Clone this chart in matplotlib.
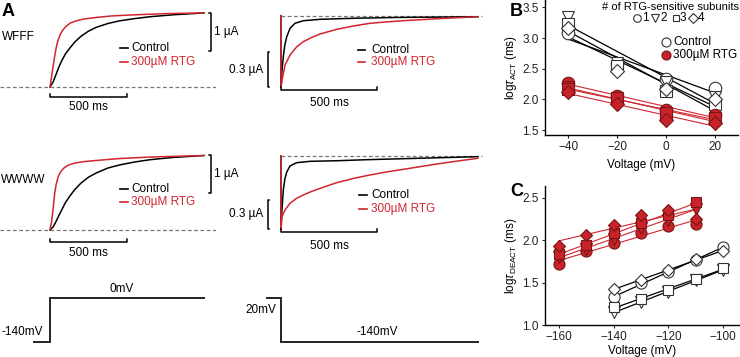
import numpy as np
import matplotlib
matplotlib.use("Agg")
import matplotlib.pyplot as plt

FS = 8.5
plt.rcParams['font.family'] = ['Liberation Sans', 'DejaVu Sans']
plt.rcParams['font.size'] = FS
plt.rcParams['mathtext.fontset'] = 'custom'
plt.rcParams['mathtext.rm'] = 'Liberation Sans'
plt.rcParams['mathtext.it'] = 'Liberation Sans:italic'

RED = '#d0262e'
RED_FILL = '#c8232b'
RED_EDGE = '#7a1414'
GRAY = '#777777'

# ---- panel A: activation traces (ms, uA) ----
wfff_act_t_ctrl = [0, 20, 40, 60, 80, 100, 130, 160, 200, 250, 300, 375, 450, 550, 650, 800, 1000]
wfff_act_i_ctrl = [0, 0.13, 0.34, 0.55, 0.72, 0.87, 1.03, 1.18, 1.33, 1.47, 1.57, 1.67, 1.74, 1.80, 1.85, 1.90, 1.95]
wfff_act_t_rtg = [0, 10, 20, 30, 40, 50, 65, 80, 100, 130, 170, 220, 300, 400, 550, 750, 1000]
wfff_act_i_rtg = [0, 0.27, 0.54, 0.80, 1.03, 1.20, 1.37, 1.48, 1.58, 1.68, 1.74, 1.79, 1.83, 1.87, 1.90, 1.93, 1.95]

wwww_act_t_ctrl = [0, 20, 40, 60, 80, 100, 130, 160, 200, 250, 300, 375, 450, 550, 650, 800, 1000]
wwww_act_i_ctrl = [0, 0.08, 0.23, 0.40, 0.56, 0.72, 0.90, 1.06, 1.23, 1.39, 1.50, 1.63, 1.71, 1.79, 1.85, 1.91, 1.96]
wwww_act_t_rtg = [0, 10, 20, 30, 40, 55, 70, 90, 120, 160, 220, 300, 450, 650, 1000]
wwww_act_i_rtg = [0, 0.22, 0.55, 0.95, 1.20, 1.42, 1.54, 1.63, 1.71, 1.76, 1.80, 1.83, 1.88, 1.92, 1.96]

# ---- panel A: deactivation traces (ms, uA) ----
wfff_deact_t_ctrl = [0, 0, 5, 12, 20, 30, 47, 73, 116, 203, 375, 600, 1025]
wfff_deact_i_ctrl = [0, -0.611, -0.47, -0.351, -0.25, -0.18, -0.108, -0.065, -0.043, -0.031, -0.022, -0.015, -0.009]
wfff_deact_t_rtg = [0, 0, 9, 21, 47, 82, 116, 160, 203, 290, 377, 464, 550, 637, 811, 1025]
wfff_deact_i_rtg = [0, -0.611, -0.523, -0.422, -0.337, -0.266, -0.223, -0.186, -0.157, -0.117, -0.088, -0.065, -0.053, -0.043, -0.026, -0.009]

wwww_deact_t_ctrl = [0, 0, 5, 12, 20, 30, 47, 82, 151, 290, 450, 635, 1025]
wwww_deact_i_ctrl = [0, -0.758, -0.55, -0.352, -0.24, -0.165, -0.103, -0.069, -0.055, -0.049, -0.038, -0.028, -0.007]
wwww_deact_t_rtg = [0, 0, 5, 21, 47, 82, 116, 160, 203, 290, 377, 464, 550, 637, 725, 811, 920, 1025]
wwww_deact_i_rtg = [0, -0.758, -0.627, -0.558, -0.489, -0.437, -0.403, -0.366, -0.335, -0.276, -0.232, -0.196, -0.165, -0.138, -0.110, -0.083, -0.052, -0.024]

# voltage protocols
prot_act_t = [-105, 0, 0, 1000]
prot_act_v = [-140, -140, 0, 0]
prot_deact_t = [-73, 0, 0, 1025]
prot_deact_v = [20, 20, -140, -140]

# ---- panel B: log tau activation ----
volt_B = [-40, -20, 0, 20]
ctrl_act_circle = [3.08, 2.58, 2.33, 2.19]
ctrl_act_tri = [3.35, 2.60, 2.29, 2.04]
ctrl_act_square = [3.23, 2.55, 2.14, 1.93]
ctrl_act_diamond = [3.16, 2.47, 2.17, 2.00]
rtg_act_circle = [2.27, 2.06, 1.83, 1.74]
rtg_act_tri = [2.21, 2.00, 1.76, 1.68]
rtg_act_square = [2.17, 2.02, 1.78, 1.70]
rtg_act_diamond = [2.12, 1.92, 1.67, 1.61]

# ---- panel C: log tau deactivation ----
volt_C_rtg = [-160, -150, -140, -130, -120, -110]
volt_C_ctrl = [-140, -130, -120, -110, -100]
rtg_deact_circle = [1.72, 1.87, 1.97, 2.08, 2.17, 2.19]
rtg_deact_tri = [1.80, 1.90, 2.02, 2.14, 2.24, 2.37]
rtg_deact_square = [1.84, 1.94, 2.09, 2.20, 2.30, 2.45]
rtg_deact_diamond = [1.93, 2.06, 2.18, 2.30, 2.36, 2.25]
ctrl_deact_circle = [1.33, 1.49, 1.62, 1.77, 1.92]
ctrl_deact_tri = [1.15, 1.27, 1.39, 1.53, 1.65]
ctrl_deact_square = [1.21, 1.31, 1.41, 1.54, 1.67]
ctrl_deact_diamond = [1.42, 1.53, 1.65, 1.78, 1.87]

W, H = 740, 357
fig = plt.figure(figsize=(W / 100, H / 100), dpi=100)


def px_axes(l, t, r, b):
    return fig.add_axes([l / W, 1 - b / H, (r - l) / W, (b - t) / H])


def trace_axes(l, t, r, b, x0, y0, px_ms, px_ua):
    ax = px_axes(l, t, r, b)
    ax.set_xlim((l - x0) / px_ms, (r - x0) / px_ms)
    ax.set_ylim((y0 - b) / px_ua, (y0 - t) / px_ua)
    ax.axis('off')
    return ax


def legend_lines(ax, t_line, t_text, i_ctrl, i_rtg):
    ax.plot(t_line, [i_ctrl, i_ctrl], color='black', lw=1.2)
    ax.plot(t_line, [i_rtg, i_rtg], color=RED, lw=1.2)
    ax.text(t_text, i_ctrl, 'Control', va='center', ha='left')
    ax.text(t_text, i_rtg, '300µM RTG', va='center', ha='left', color=RED)


def time_bar(ax, i_bar, i_text, tick):
    ax.plot([0, 0, 500, 500], [i_bar + tick, i_bar, i_bar, i_bar + tick], color='black', lw=1.1)
    ax.text(250, i_text, '500 ms', ha='center', va='center')


def current_bar(ax, t_bar, i0, i1, dt, label, t_text, left=True):
    ax.plot([t_bar - dt, t_bar, t_bar, t_bar - dt], [i0, i0, i1, i1], color='black', lw=1.1,
            clip_on=False)
    ax.text(t_text, (i0 + i1) / 2, label, ha='left' if left else 'right', va='center')


# activation, WFFF
px_ms_a = 0.154
ax = trace_axes(0, 0, 216, 112, 50, 87, px_ms_a, 38)
ax.hlines(0, ax.get_xlim()[0], ax.get_xlim()[1], colors=GRAY, linestyles=(0, (3, 2)), lw=0.9)
ax.plot(wfff_act_t_ctrl, wfff_act_i_ctrl, color='black', lw=1.1)
ax.plot(wfff_act_t_rtg, wfff_act_i_rtg, color=RED, lw=1.1)
legend_lines(ax, [455, 507], 526, 1.03, 0.66)
time_bar(ax, -0.263, -0.53, 0.08)
current_bar(ax, 1045, 0.95, 1.95, 15, '1 µA', 1068)

# activation, WWWW
ax = trace_axes(0, 143, 216, 260, 50, 230, px_ms_a, 38)
ax.hlines(0, ax.get_xlim()[0], ax.get_xlim()[1], colors=GRAY, linestyles=(0, (3, 2)), lw=0.9)
ax.plot(wwww_act_t_ctrl, wwww_act_i_ctrl, color='black', lw=1.1)
ax.plot(wwww_act_t_rtg, wwww_act_i_rtg, color=RED, lw=1.1)
legend_lines(ax, [455, 507], 526, 1.08, 0.74)
time_bar(ax, -0.316, -0.60, 0.08)
current_bar(ax, 1045, 0.97, 1.97, 15, '1 µA', 1068)

# deactivation, WFFF
px_ms_d = 0.192
ax = trace_axes(230, 0, 500, 112, 281, 15.7, px_ms_d, 116.7)
ax.hlines(0, 0, 1045, colors=GRAY, linestyles=(0, (3, 2)), lw=0.9)
ax.plot(wfff_deact_t_ctrl, wfff_deact_i_ctrl, color='black', lw=1.1)
ax.plot(wfff_deact_t_rtg, wfff_deact_i_rtg, color=RED, lw=1.1)
legend_lines(ax, [401, 437], 469, -0.294, -0.397)
time_bar(ax, -0.637, -0.75, 0.025)
current_bar(ax, -68, -0.615, -0.315, -8, '0.3 µA', -95, left=False)

# deactivation, WWWW
ax = trace_axes(230, 143, 500, 260, 281, 156, px_ms_d, 96.7)
ax.hlines(0, 0, 1045, colors=GRAY, linestyles=(0, (3, 2)), lw=0.9)
ax.plot(wwww_deact_t_ctrl, wwww_deact_i_ctrl, color='black', lw=1.1)
ax.plot(wwww_deact_t_rtg, wwww_deact_i_rtg, color=RED, lw=1.1)
legend_lines(ax, [406, 448], 469, -0.403, -0.548)
time_bar(ax, -0.79, -0.93, 0.03)
current_bar(ax, -68, -0.75, -0.45, -8, '0.3 µA', -95, left=False)

# protocols
ax = px_axes(0, 270, 216, 357)
ax.set_xlim(-50 / px_ms_a, 166 / px_ms_a)
ax.set_ylim(-140 - (357 - 341.7) / 0.3143, (341.7 - 270) / 0.3143 - 140)
ax.axis('off')
ax.plot(prot_act_t, prot_act_v, color='#222222', lw=1.4, solid_joinstyle='miter')
ax.text(468, 10, '0mV', ha='center', va='bottom')
ax.text(-45, -140 + 10 / 0.3143, '-140mV', ha='right', va='center')

ax = px_axes(230, 270, 500, 357)
ax.set_xlim(-51 / px_ms_d, 219 / px_ms_d)
ax.set_ylim(-140 - (357 - 341.7) / 0.275, (341.7 - 270) / 0.275 - 140)
ax.axis('off')
ax.plot(prot_deact_t, prot_deact_v, color='#222222', lw=1.4, solid_joinstyle='miter')
ax.text(-27, 20 - 12 / 0.275, '20mV', ha='right', va='center')
ax.text(500, -140 + 10 / 0.275, '-140mV', ha='center', va='center')

fig.text(2 / W, 1 - 37 / H, 'WFFF', ha='left', va='center')
fig.text(1 / W, 1 - 180 / H, 'WWWW', ha='left', va='center')

# ---- panels B and C ----
markers = ['o', 'v', 's', 'D']
msizes = [9, 9, 8, 7.5]


def style_axes(ax):
    for s in ['top', 'right']:
        ax.spines[s].set_visible(False)
    for s in ['left', 'bottom']:
        ax.spines[s].set_linewidth(1.0)
    ax.tick_params(direction='out', length=2.5, width=0.8, labelsize=FS, pad=2,
                   colors='#222222')


def fit_line(ax, x, y, color, lw):
    k, c = np.polyfit(x, y, 1)
    xs = np.array([x[0], x[-1]])
    ax.plot(xs, k * xs + c, color=color, lw=lw, zorder=2)


axB = px_axes(545, 0, 738, 135)
axB.set_xlim(-49.5, 29.5)
axB.set_ylim(1.42, 3.62)
style_axes(axB)
axB.set_xticks([-40, -20, 0, 20])
axB.set_yticks([1.5, 2.0, 2.5, 3.0, 3.5])
axB.set_yticklabels(['1.5', '2.0', '2.5', '3.0', '3.5'])
axB.set_xlabel('Voltage (mV)', labelpad=4)
axB.set_ylabel(r'log$\tau_{\mathrm{ACT}}$ (ms)', labelpad=2)

ctrl_B = [ctrl_act_circle, ctrl_act_tri, ctrl_act_square, ctrl_act_diamond]
rtg_B = [rtg_act_circle, rtg_act_tri, rtg_act_square, rtg_act_diamond]
for ys, m, ms in zip(ctrl_B, markers, msizes):
    fit_line(axB, volt_B, ys, 'black', 0.9)
    axB.plot(volt_B, ys, m, ms=ms, mfc='white', mec='#333333', mew=0.8, zorder=3)
for ys, m, ms in zip(rtg_B, markers, msizes):
    fit_line(axB, volt_B, ys, RED, 0.8)
    axB.plot(volt_B, ys, m, ms=ms, mfc=RED_FILL, mec=RED_EDGE, mew=0.8, zorder=3)


def bx(px):
    return (px - 545) / 193


def by(py):
    return (135 - py) / 135


axB.text(bx(739), by(7), '# of RTG-sensitive subunits', transform=axB.transAxes,
         ha='right', va='center', fontsize=8)
for m, ms, xm, xt, lab in zip(markers, [5.5, 6, 5, 5], [637, 655, 675.5, 692.5],
                              [642, 660.5, 680, 698], ['1', '2', '3', '4']):
    axB.plot([bx(xm)], [by(18)], m, ms=ms, mfc='white', mec='#333333', mew=0.8,
             transform=axB.transAxes, clip_on=False)
    axB.text(bx(xt), by(18), lab, transform=axB.transAxes, ha='left', va='center')
axB.plot([bx(666), ], [by(42)], 'o', ms=6.5, mfc='white', mec='#333333', mew=0.8,
         transform=axB.transAxes, clip_on=False)
axB.text(bx(673), by(42), 'Control', transform=axB.transAxes, ha='left', va='center')
axB.plot([bx(666)], [by(55)], 'o', ms=6.5, mfc=RED_FILL, mec=RED_EDGE, mew=0.8,
         transform=axB.transAxes, clip_on=False)
axB.text(bx(673), by(55), '300µM RTG', transform=axB.transAxes, ha='left', va='center')

axC = px_axes(545, 186, 739, 325)
axC.set_xlim(-165.1, -94.2)
axC.set_ylim(1.0, 2.64)
style_axes(axC)
axC.set_xticks([-160, -140, -120, -100])
axC.set_yticks([1.0, 1.5, 2.0, 2.5])
axC.set_yticklabels(['1.0', '1.5', '2.0', '2.5'])
axC.set_xlabel('Voltage (mV)', labelpad=1)
axC.set_ylabel(r'log$\tau_{\mathrm{DEACT}}$ (ms)', labelpad=2)

ctrl_C = [ctrl_deact_circle, ctrl_deact_tri, ctrl_deact_square, ctrl_deact_diamond]
rtg_C = [rtg_deact_circle, rtg_deact_tri, rtg_deact_square, rtg_deact_diamond]
msC = [8, 8, 7, 6.5]
for ys, m, ms in zip(ctrl_C, markers, msC):
    fit_line(axC, volt_C_ctrl, ys, 'black', 0.9)
    axC.plot(volt_C_ctrl, ys, m, ms=ms, mfc='white', mec='#333333', mew=0.8, zorder=3)
for ys, m, ms in zip(rtg_C, markers, msC):
    fit_line(axC, volt_C_rtg, ys, RED, 0.8)
    axC.plot(volt_C_rtg, ys, m, ms=ms, mfc=RED_FILL, mec=RED_EDGE, mew=0.8, zorder=3)

# panel letters
fig.text(2 / W, 1 - 12 / H, 'A', fontsize=13, fontweight='bold', va='center', ha='left')
fig.text(510 / W, 1 - 12 / H, 'B', fontsize=13, fontweight='bold', va='center', ha='left')
fig.text(510 / W, 1 - 192 / H, 'C', fontsize=13, fontweight='bold', va='center', ha='left')

fig.savefig('out.png', dpi=100)
